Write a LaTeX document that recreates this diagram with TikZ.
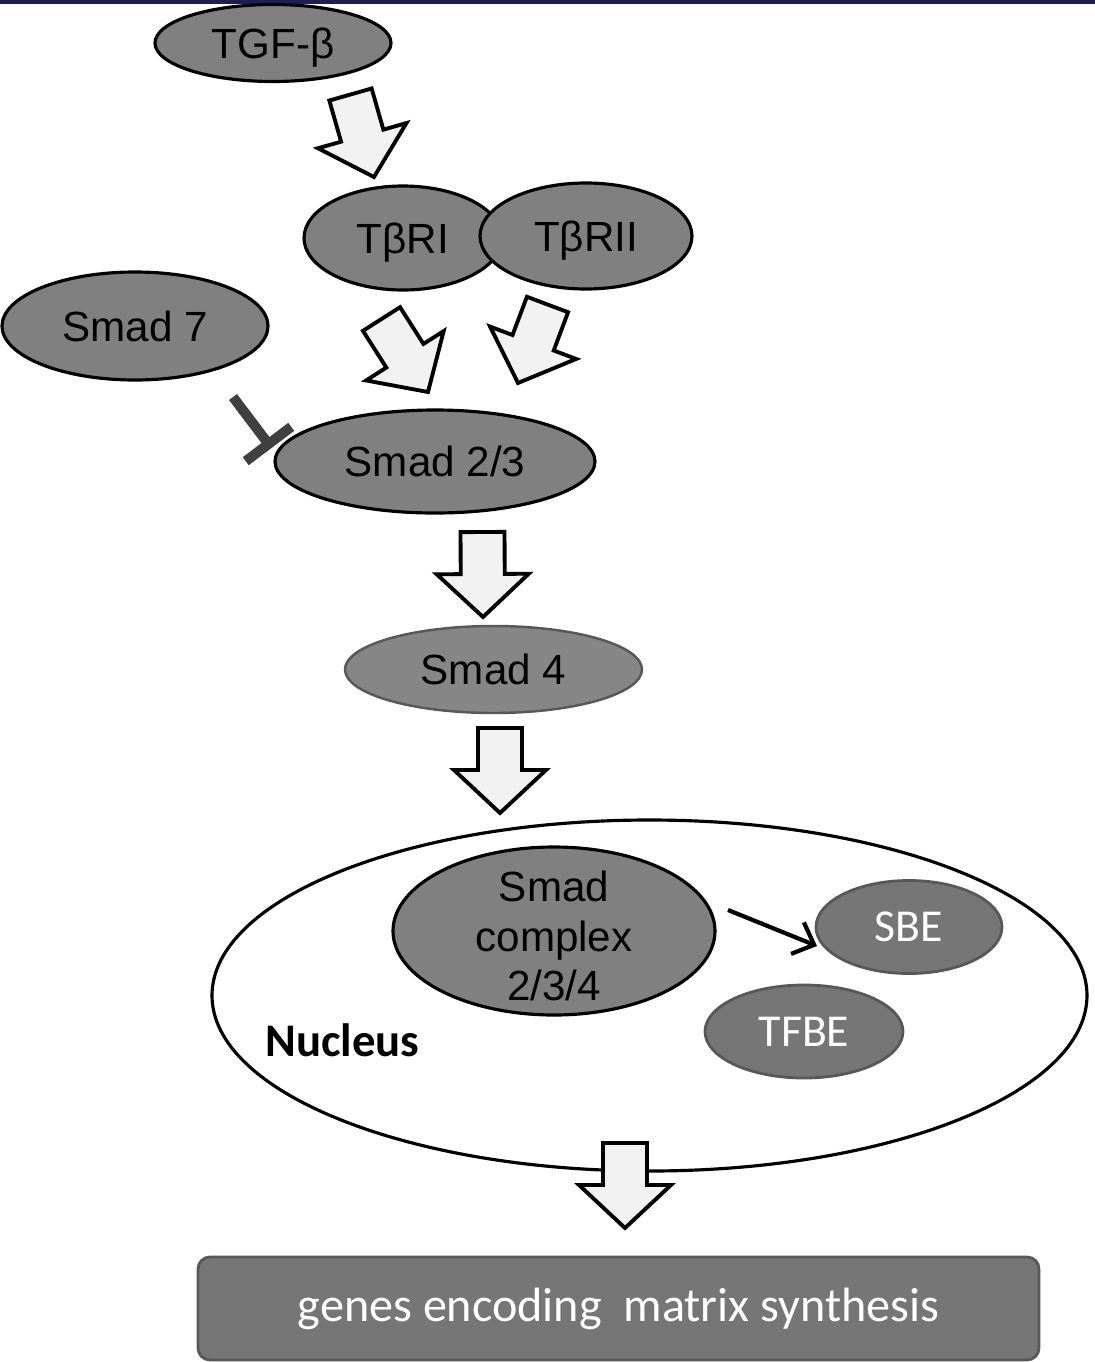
\documentclass[tikz,border=0pt]{standalone}
\usepackage{fontspec}
\setmainfont{Liberation Sans}
\newfontfamily\calibri{Carlito}
\usepackage{tikz}
\usetikzlibrary{calc,arrows.meta,shapes.geometric}
\usepackage{xcolor}
\definecolor{protgray}{RGB}{128,128,128}
\definecolor{sitegray}{RGB}{118,118,118}
\definecolor{edgegray}{RGB}{88,88,88}
\definecolor{arrowfill}{RGB}{242,242,242}
\definecolor{inhibgray}{RGB}{64,64,64}
\definecolor{topnavy}{RGB}{30,30,85}

% block arrow from #1 (tail) to #2 (tip)
\newcommand{\fatarrow}[2]{%
  \coordinate (fa) at ($(#2)!0.43cm!(#1)$);
  \draw[fatarrow] ($(#1)!0.22cm!90:(#2)$) -- ($(fa)!0.22cm!90:(#2)$) -- ($(fa)!0.46cm!90:(#2)$) -- (#2)
    -- ($(fa)!0.46cm!-90:(#2)$) -- ($(fa)!0.22cm!-90:(#2)$) -- ($(#1)!0.22cm!-90:(#2)$) -- cycle;
}

\begin{document}
\begin{tikzpicture}[
  prot/.style={ellipse, draw=black, line width=0.9pt, fill=protgray, inner sep=1pt, text height=8.6pt, text depth=0pt, font=\fontsize{12}{14.5}\selectfont},
  site/.style={ellipse, draw=edgegray, line width=0.8pt, fill=sitegray, text=white, text height=8.4pt, text depth=0pt, font=\calibri\fontsize{13}{15}\selectfont},
  fatarrow/.style={draw=black, line width=1.1pt, fill=arrowfill, line join=miter},
  inhibit/.style={draw=inhibgray, line width=0.1cm, -{Bar[width=0.57cm]}},
  smallarrow/.style={draw=black, line width=1.2pt, -{Straight Barb[length=1.8mm, width=3.4mm]}}]
  \useasboundingbox (0,0) rectangle (10.95,-13.62);
  \fill[topnavy] (0,0) rectangle (10.95,-0.035);

  % Receptors
  \node[prot, minimum width=2.36cm, minimum height=0.77cm] (tgf) at (2.73,-0.43) {TGF-β};
  \node[prot, minimum width=1.98cm, minimum height=1.04cm] (tbr1) at (4.03,-2.38) {TβRI};
  \node[prot, minimum width=2.12cm, minimum height=1.06cm] (tbr2) at (5.86,-2.36) {TβRII};

  % Smads
  \node[prot, minimum width=2.66cm, minimum height=1.08cm] (smad7) at (1.35,-3.26) {Smad 7};
  \node[prot, minimum width=3.2cm, minimum height=1.03cm] (smad23) at (4.35,-4.615) {Smad 2/3};
  \node[prot, draw=edgegray, line width=0.7pt, fill=protgray!95!white, minimum width=2.97cm, minimum height=0.87cm] (smad4) at (4.935,-6.695) {Smad 4};

  % Nucleus
  \node[ellipse, draw=black, line width=0.9pt, fill=white, minimum width=8.75cm, minimum height=3.51cm] (nucleus) at (6.495,-9.955) {};
  \node[prot, minimum width=3.22cm, minimum height=1.68cm,
    label={[align=center, yshift=-0.05cm, font=\fontsize{12}{14}\selectfont]center:Smad\\complex\\2/3/4}] (complex) at (5.54,-9.31) {};
  \node[site, minimum width=1.86cm, minimum height=0.93cm] (sbe) at (9.09,-9.27) {SBE};
  \node[site, minimum width=1.98cm, minimum height=0.93cm] (tfbe) at (8.04,-10.315) {TFBE};
  \node[font=\calibri\bfseries\fontsize{13.3}{15}\selectfont] (nuclabel) at (3.425,-10.40) {Nucleus};

  % Result
  \node[draw=edgegray, line width=0.8pt, fill=sitegray, rounded corners=0.12cm, minimum width=8.41cm, minimum height=1.03cm,
    text=white, font=\calibri\fontsize{13.7}{16}\selectfont] (genes) at (6.185,-13.085) {genes encoding~ matrix synthesis};

  % arrow ends
  \coordinate (a1s) at (3.505,-0.945);
  \coordinate (a1e) at (3.74,-1.77);
  \coordinate (a2s) at (3.815,-3.19);
  \coordinate (a2e) at (4.28,-3.92);
  \coordinate (a3s) at (5.475,-3.045);
  \coordinate (a3e) at (5.18,-3.83);
  \coordinate (a4s) at (4.825,-5.32);
  \coordinate (a4e) at (4.83,-6.17);
  \coordinate (a5s) at (5.00,-7.28);
  \coordinate (a5e) at (5.00,-8.13);
  \coordinate (a6s) at (6.25,-11.43);
  \coordinate (a6e) at (6.25,-12.28);
  \coordinate (inhs) at (2.33,-3.97);
  \coordinate (inhe) at (2.715,-4.48);
  \coordinate (cpxs) at (7.28,-9.10);
  \coordinate (sbee) at (8.17,-9.46);

  \fatarrow{a1s}{a1e}
  \fatarrow{a2s}{a2e}
  \fatarrow{a3s}{a3e}
  \fatarrow{a4s}{a4e}
  \fatarrow{a5s}{a5e}
  \fatarrow{a6s}{a6e}

  \draw[inhibit] (inhs) -- (inhe);
  \draw[smallarrow] (cpxs) -- (sbee);
\end{tikzpicture}
\end{document}
